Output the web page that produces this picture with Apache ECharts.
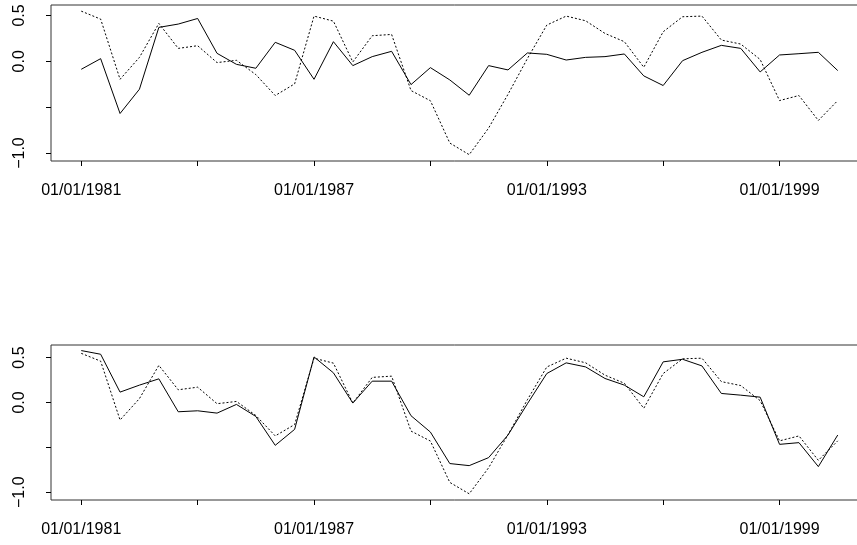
<!DOCTYPE html>
<html>
<head>
<meta charset="utf-8">
<script src="https://cdn.jsdelivr.net/npm/echarts@6/dist/echarts.min.js"></script>
<style>
html,body{margin:0;padding:0;background:#fff;}
#c{width:857px;height:545px;}
</style>
</head>
<body>
<div id="c"></div>
<script>
// Semiannual observation dates
const dates = [
  '1981-01-01','1981-07-01','1982-01-01','1982-07-01','1983-01-01','1983-07-01','1984-01-01','1984-07-01',
  '1985-01-01','1985-07-01','1986-01-01','1986-07-01','1987-01-01','1987-07-01','1988-01-01','1988-07-01',
  '1989-01-01','1989-07-01','1990-01-01','1990-07-01','1991-01-01','1991-07-01','1992-01-01','1992-07-01',
  '1993-01-01','1993-07-01','1994-01-01','1994-07-01','1995-01-01','1995-07-01','1996-01-01','1996-07-01',
  '1997-01-01','1997-07-01','1998-01-01','1998-07-01','1999-01-01','1999-07-01','2000-01-01','2000-07-01'
];
// Dotted series (same in both panels)
const observed = [
  0.547, 0.46, -0.196, 0.043, 0.413, 0.141, 0.17, -0.014, 0.011, -0.145,
  -0.373, -0.246, 0.493, 0.438, -0.007, 0.279, 0.293, -0.319, -0.43, -0.891,
  -1.018, -0.728, -0.36, 0.03, 0.395, 0.493, 0.442, 0.304, 0.214, -0.065,
  0.322, 0.486, 0.493, 0.232, 0.188, 0.02, -0.428, -0.373, -0.645, -0.428
];
// Solid series, top panel
const fitTop = [
  -0.087, 0.029, -0.569, -0.304, 0.37, 0.406, 0.467, 0.087, -0.033, -0.076,
  0.207, 0.12, -0.196, 0.214, -0.047, 0.051, 0.109, -0.254, -0.069, -0.203,
  -0.37, -0.047, -0.094, 0.091, 0.076, 0.014, 0.043, 0.051, 0.08, -0.159,
  -0.264, 0.007, 0.098, 0.174, 0.141, -0.116, 0.069, 0.083, 0.098, -0.101
];
// Solid series, bottom panel
const fitBottom = [
  0.578, 0.537, 0.115, 0.193, 0.263, -0.104, -0.093, -0.119, -0.022, -0.156,
  -0.478, -0.3, 0.507, 0.33, -0.007, 0.237, 0.237, -0.148, -0.33, -0.681,
  -0.704, -0.615, -0.363, -0.015, 0.322, 0.441, 0.396, 0.267, 0.193, 0.063,
  0.452, 0.481, 0.407, 0.1, 0.081, 0.059, -0.467, -0.448, -0.715, -0.363
];
const xTickYears = [1981, 1984, 1987, 1990, 1993, 1996, 1999];
const xLabelYears = [1981, 1987, 1993, 1999];
const yTicks = [-1, -0.5, 0, 0.5];
const yLabels = [-1, 0, 0.5];

function toYear(s) {
  const p = s.split('-');
  return +p[0] + (+p[1] - 1) / 12;
}
const xs = dates.map(toYear);
function pairs(vals) { return vals.map((v, i) => [xs[i], v]); }

const FONT = '"Liberation Sans", Arial, Helvetica, sans-serif';

function xAxis(gridIndex) {
  return {
    type: 'value', gridIndex: gridIndex, position: 'bottom',
    min: 1980.22, max: 2001.28,
    splitLine: {show: false},
    axisLine: {show: false, onZero: false},
    axisTick: {show: true, length: 5, lineStyle: {color: '#000', width: 1}, customValues: xTickYears},
    axisLabel: {
      customValues: xLabelYears, margin: 22,
      fontFamily: FONT, fontSize: 16, color: '#000',
      formatter: v => '01/01/' + Math.round(v)
    }
  };
}
function yAxis(gridIndex, min, max) {
  return {
    type: 'value', gridIndex: gridIndex, position: 'left', min: min, max: max,
    splitLine: {show: false},
    axisLine: {show: false, onZero: false},
    axisTick: {show: true, length: 5, lineStyle: {color: '#000', width: 1}, customValues: yTicks},
    axisLabel: {
      customValues: yLabels, rotate: 90, margin: 23,
      fontFamily: FONT, fontSize: 16, color: '#000',
      formatter: v => v.toFixed(1).replace('-', '\u2212')
    }
  };
}
function lineSeries(idx, vals, dotted) {
  return {
    type: 'line', xAxisIndex: idx, yAxisIndex: idx,
    data: pairs(vals), symbol: 'none', silent: true, animation: false,
    lineStyle: {color: '#000', width: 1, type: dotted ? [2, 2] : 'solid'}
  };
}

const chart = echarts.init(document.getElementById('c'), null, {renderer: 'canvas'});
chart.setOption({
  backgroundColor: '#fff',
  animation: false,
  grid: [
    {left: 51, top: 5, width: 817, height: 156, outerBoundsMode: 'none', containLabel: false, show: true, borderColor: '#333', borderWidth: 1, backgroundColor: 'transparent'},
    {left: 51, top: 345, width: 817, height: 155, outerBoundsMode: 'none', containLabel: false, show: true, borderColor: '#333', borderWidth: 1, backgroundColor: 'transparent'}
  ],
  xAxis: [xAxis(0), xAxis(1)],
  yAxis: [yAxis(0, -1.087, 0.614), yAxis(1, -1.087, 0.64)],
  series: [
    lineSeries(0, fitTop, false),
    lineSeries(0, observed, true),
    lineSeries(1, fitBottom, false),
    lineSeries(1, observed, true)
  ]
});
</script>
</body>
</html>
